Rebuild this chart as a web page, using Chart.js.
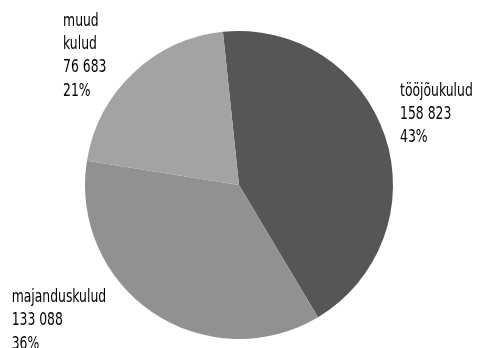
<!DOCTYPE html>
<html>
<head>
<meta charset="utf-8">
<script src="https://cdn.jsdelivr.net/npm/chart.js@4"></script>
<style>
  body { margin: 0; background: #fff; }
</style>
</head>
<body>
<canvas id="kulud" width="477" height="348"></canvas>
<script>
const categories = [['tööjõukulud'], ['majanduskulud'], ['muud', 'kulud']];
const amounts = [158823, 133088, 76683];
const percentLabels = ['43%', '36%', '21%'];
const sliceColors = ['#565656', '#919191', '#a3a3a3'];

// where each label block sits relative to the outer edge of its slice (top-left of text)
const labelOffsets = [[15, -45], [-141, -15], [-70, -52]];

function formatAmount(v) {
  return String(v).replace(/\B(?=(\d{3})+(?!\d))/g, ' ');
}

const sliceLabels = {
  id: 'sliceLabels',
  afterDatasetsDraw(chart) {
    const ctx = chart.ctx;
    const arcs = chart.getDatasetMeta(0).data;
    const squeeze = 0.81; // condensed look
    ctx.save();
    ctx.font = '17px "DejaVu Sans Condensed", "DejaVu Sans", sans-serif';
    ctx.fillStyle = '#000';
    ctx.textAlign = 'left';
    ctx.textBaseline = 'middle';
    arcs.forEach((arc, i) => {
      const mid = (arc.startAngle + arc.endAngle) / 2;
      const ax = arc.x + Math.cos(mid) * arc.outerRadius;
      const ay = arc.y + Math.sin(mid) * arc.outerRadius;
      const x = ax + labelOffsets[i][0];
      let y = ay + labelOffsets[i][1];
      const lines = categories[i].concat([formatAmount(amounts[i]), percentLabels[i]]);
      lines.forEach(t => {
        ctx.save();
        ctx.translate(x, y);
        ctx.scale(squeeze, 1);
        ctx.fillText(t, 0, 0);
        ctx.restore();
        y += 23.3;
      });
    });
    ctx.restore();
  }
};

new Chart(document.getElementById('kulud'), {
  type: 'pie',
  data: {
    labels: categories.map(c => c.join(' ')),
    datasets: [{
      data: amounts,
      backgroundColor: sliceColors,
      borderWidth: 0
    }]
  },
  options: {
    responsive: false,
    animation: false,
    rotation: -6,
    layout: { padding: { top: 31, bottom: 9, left: 85, right: 84 } },
    plugins: {
      legend: { display: false },
      tooltip: { enabled: false }
    }
  },
  plugins: [sliceLabels]
});
</script>
</body>
</html>
